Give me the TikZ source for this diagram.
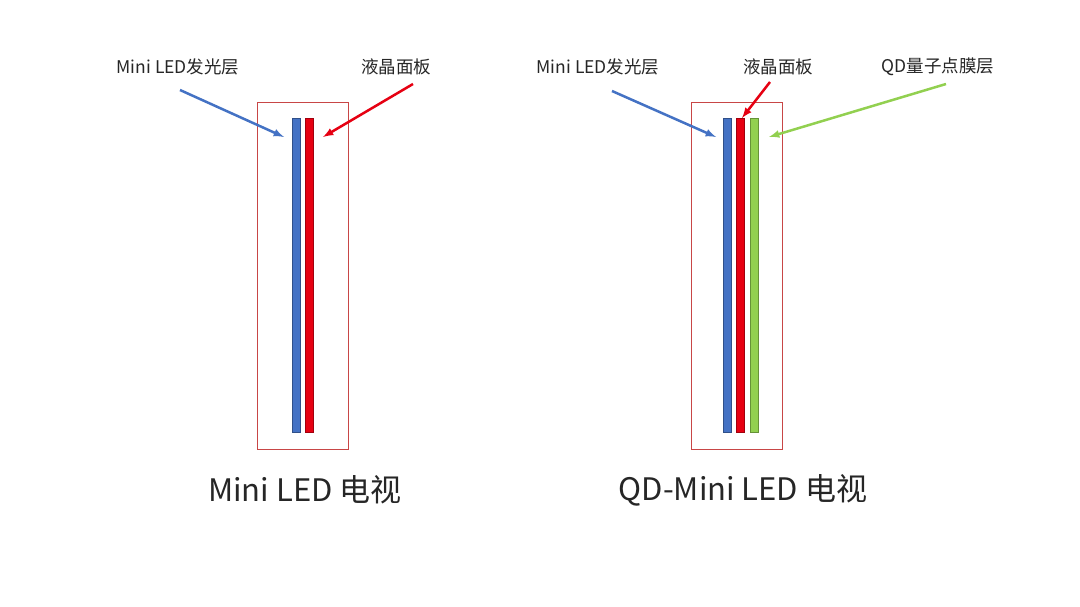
\documentclass[tikz,border=0pt]{standalone}
\usepackage{fontspec}
\setmainfont{Noto Sans CJK SC}
\begin{document}
\begin{tikzpicture}[x=1pt,y=-1pt,
  frame/.style={draw={rgb,255:red,200;green,70;blue,70},line width=0.8pt},
  bar/.style={draw=#1!70!black,fill=#1,line width=0.5pt},
  lab/.style={font=\fontsize{17.5}{20}\selectfont,text=black!85},
  ttl/.style={font=\fontsize{31}{34}\selectfont,text=black!85},
  arr/.style={draw=#1,line width=2.5pt,-latex}]
\definecolor{bl}{RGB}{68,114,196}
\definecolor{rd}{RGB}{230,0,18}
\definecolor{gr}{RGB}{146,208,80}
\useasboundingbox[fill=white] (0,0) rectangle (1080,607);
% left
\node[frame,minimum width=91pt,minimum height=347pt,inner sep=0] (box1) at (302.5,275.5) {};
\node[bar=bl,minimum width=8pt,minimum height=314pt,inner sep=0] (b1) at (296,275) {};
\node[bar=rd,minimum width=8pt,minimum height=314pt,inner sep=0] (r1) at (309,275) {};
\node[lab] (l1) at (178,67) {Mini LED发光层};
\node[lab] (l2) at (396,67) {液晶面板};
\coordinate (s1) at (180,90); \coordinate (e1) at (284,137);
\coordinate (s2) at (413,84); \coordinate (e2) at (323,137);
\draw[arr=bl] (s1) -- (e1);
\draw[arr=rd] (s2) -- (e2);
\node[ttl] (t1) at (305,490) {Mini LED 电视};
% right
\node[frame,minimum width=91pt,minimum height=347pt,inner sep=0] (box2) at (736.5,275.5) {};
\node[bar=bl,minimum width=8pt,minimum height=314pt,inner sep=0] (b2) at (727,275) {};
\node[bar=rd,minimum width=8pt,minimum height=314pt,inner sep=0] (r2) at (740,275) {};
\node[bar=gr,minimum width=8pt,minimum height=314pt,inner sep=0] (g2) at (754,275) {};
\node[lab] (l3) at (598,67) {Mini LED发光层};
\node[lab] (l4) at (778,67) {液晶面板};
\node[lab] (l5) at (938,67) {QD量子点膜层};
\coordinate (s3) at (612,91); \coordinate (e3) at (716,137);
\coordinate (s4) at (770,82); \coordinate (e4) at (742,118);
\coordinate (s5) at (946,84); \coordinate (e5) at (769,137);
\draw[arr=bl] (s3) -- (e3);
\draw[arr=rd] (s4) -- (e4);
\draw[arr=gr] (s5) -- (e5);
\node[ttl] (t2) at (743,490) {QD-Mini LED 电视};
\end{tikzpicture}
\end{document}
